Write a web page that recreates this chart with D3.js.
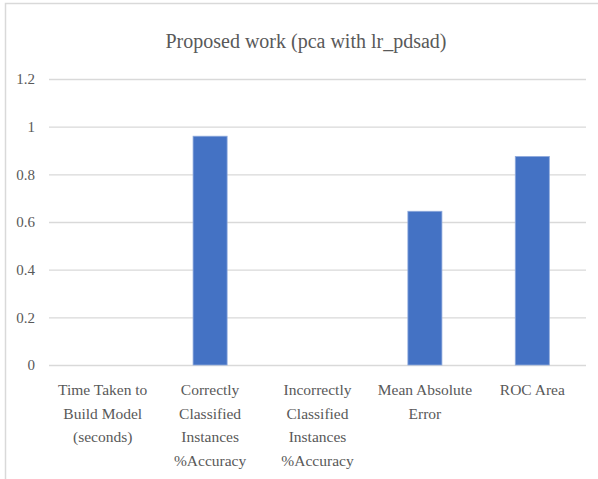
<!DOCTYPE html>
<html>
<head>
<meta charset="utf-8">
<script src="https://cdn.jsdelivr.net/npm/d3@7"></script>
<style>
  html, body { margin: 0; padding: 0; background: #fff; }
  svg { display: block; }
</style>
</head>
<body>
<svg id="chart" width="598" height="479"></svg>
<script>
const title = "Proposed work (pca with lr_pdsad)";
const categories = [
  ["Time Taken to", "Build Model", "(seconds)"],
  ["Correctly", "Classified", "Instances", "%Accuracy"],
  ["Incorrectly", "Classified", "Instances", "%Accuracy"],
  ["Mean Absolute", "Error"],
  ["ROC Area"]
];
const values = [0, 0.96, 0, 0.645, 0.875];
const yTicks = [0, 0.2, 0.4, 0.6, 0.8, 1, 1.2];

(function() {
const svg = d3.select("#chart");
const W = 598, H = 479;
const mLeft = 49, mRight = 586, mTop = 79, mBottom = 365;
const fontFam = "'Liberation Serif', 'Times New Roman', serif";
const textColor = "#595959";

svg.append("rect").attr("width", W).attr("height", H).attr("fill", "#fff");
svg.append("rect")
  .attr("x", 5.5).attr("y", 3.5)
  .attr("width", W + 10).attr("height", H + 10)
  .attr("fill", "none").attr("stroke", "#d9d9d9").attr("stroke-width", 1.5);

const x = d3.scaleBand()
  .domain(d3.range(categories.length))
  .range([mLeft, mRight])
  .paddingInner(0.683)
  .paddingOuter(0.683 / 2);

const y = d3.scaleLinear().domain([0, 1.2]).range([mBottom, mTop]);

const yAxis = d3.axisLeft(y).tickValues(yTicks).tickSize(-(mRight - mLeft))
  .tickFormat(d => d3.format("")(d)).tickPadding(14);
const gy = svg.append("g").attr("transform", `translate(${mLeft},0)`).call(yAxis);
gy.select(".domain").remove();
gy.selectAll(".tick line").attr("stroke", "#d9d9d9").attr("stroke-width", 1.3);
gy.selectAll(".tick text")
  .attr("fill", textColor)
  .style("font-family", fontFam)
  .style("font-size", "15px");

svg.append("g").selectAll("rect")
  .data(values)
  .join("rect")
  .attr("x", (d, i) => x(i))
  .attr("y", d => y(d))
  .attr("width", x.bandwidth())
  .attr("height", d => y(0) - y(d))
  .attr("fill", "#4472c4")
  .attr("stroke", "#8faadc")
  .attr("stroke-width", 0.8);

const xAxis = d3.axisBottom(x).tickSize(0).tickFormat("");
const gx = svg.append("g").attr("transform", `translate(0,${mBottom})`).call(xAxis);
gx.select(".domain").remove();
gx.selectAll(".tick").each(function(d) {
  const t = d3.select(this).append("text")
    .attr("fill", textColor)
    .attr("text-anchor", "middle")
    .style("font-family", fontFam)
    .style("font-size", "15.5px");
  categories[d].forEach((line, k) => {
    t.append("tspan").attr("x", 0).attr("y", 30 + k * 23.5).text(line);
  });
});

svg.append("text")
  .attr("x", 306).attr("y", 48)
  .attr("text-anchor", "middle")
  .attr("fill", textColor)
  .style("font-family", fontFam)
  .style("font-size", "20px")
  .text(title);
})();
</script>
</body>
</html>
